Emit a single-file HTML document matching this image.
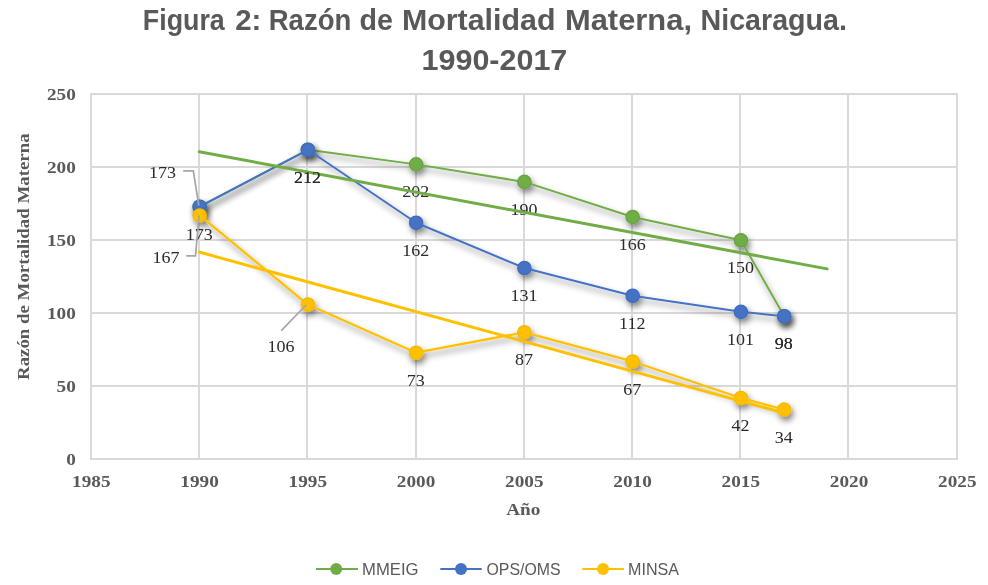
<!DOCTYPE html><html><head><meta charset="utf-8"><style>html,body{margin:0;padding:0;background:#fff;}svg{display:block;will-change:transform}</style></head><body>
<svg width="988" height="585" viewBox="0 0 988 585">
<defs>
<filter id="sh" filterUnits="userSpaceOnUse" x="0" y="0" width="988" height="585">
<feGaussianBlur in="SourceAlpha" stdDeviation="3.2"/>
<feOffset dx="2.2" dy="3.6" result="b"/>
<feComponentTransfer><feFuncA type="linear" slope="0.5"/></feComponentTransfer>
<feMerge><feMergeNode/><feMergeNode in="SourceGraphic"/></feMerge>
</filter>
</defs>
<rect width="988" height="585" fill="#fff"/>
<g font-family="Liberation Sans, sans-serif" font-weight="bold" font-size="30" fill="#595959">
<text transform="translate(142.80 30) scale(0.8948 1)">Figura</text>
<text transform="translate(235.18 30) scale(0.9803 1)">2:</text>
<text transform="translate(268.76 30) scale(0.9172 1)">Razón</text>
<text transform="translate(359.52 30) scale(0.9556 1)">de</text>
<text transform="translate(401.97 30) scale(1.0123 1)">Mortalidad</text>
<text transform="translate(564.93 30) scale(1.0305 1)">Materna,</text>
<text transform="translate(700.48 30) scale(0.9550 1)">Nicaragua.</text>
<text transform="translate(421.58 70) scale(1.0160 1)">1990-2017</text>
</g>
<path d="M91 93V460 M199 93V460 M307 93V460 M416 93V460 M524 93V460 M632 93V460 M740 93V460 M848 93V460 M957 93V460 M90 94H958 M90 167H958 M90 240H958 M90 313H958 M90 386H958 M90 459H958" stroke="#D9D9D9" stroke-width="2" fill="none"/>
<g font-family="Liberation Serif, serif" font-weight="bold" fill="#595959">
<text transform="translate(75.8 100) scale(1.05 0.95)" text-anchor="end" font-size="18.3">250</text>
<text transform="translate(75.8 173) scale(1.05 0.95)" text-anchor="end" font-size="18.3">200</text>
<text transform="translate(75.8 246) scale(1.05 0.95)" text-anchor="end" font-size="18.3">150</text>
<text transform="translate(75.8 319) scale(1.05 0.95)" text-anchor="end" font-size="18.3">100</text>
<text transform="translate(75.8 392) scale(1.05 0.95)" text-anchor="end" font-size="18.3">50</text>
<text transform="translate(75.8 465) scale(1.05 0.95)" text-anchor="end" font-size="18.3">0</text>
<text transform="translate(91.3 487) scale(1.05 0.95)" text-anchor="middle" font-size="18.3">1985</text>
<text transform="translate(199.55 487) scale(1.05 0.95)" text-anchor="middle" font-size="18.3">1990</text>
<text transform="translate(307.8 487) scale(1.05 0.95)" text-anchor="middle" font-size="18.3">1995</text>
<text transform="translate(416.05 487) scale(1.05 0.95)" text-anchor="middle" font-size="18.3">2000</text>
<text transform="translate(524.3 487) scale(1.05 0.95)" text-anchor="middle" font-size="18.3">2005</text>
<text transform="translate(632.55 487) scale(1.05 0.95)" text-anchor="middle" font-size="18.3">2010</text>
<text transform="translate(740.8 487) scale(1.05 0.95)" text-anchor="middle" font-size="18.3">2015</text>
<text transform="translate(849.05 487) scale(1.05 0.95)" text-anchor="middle" font-size="18.3">2020</text>
<text transform="translate(957.3 487) scale(1.05 0.95)" text-anchor="middle" font-size="18.3">2025</text>
<text transform="translate(523.3 514.8) scale(1.05 0.95)" text-anchor="middle" font-size="18.3">Año</text>
<text transform="translate(29.2 256.7) rotate(-90) scale(1 0.92)" text-anchor="middle" font-size="18.3" textLength="246.5" lengthAdjust="spacingAndGlyphs">Razón de Mortalidad Materna</text>
</g>
<g filter="url(#sh)">
<polyline points="199.65,206.72 307.90,149.78 416.15,164.38 524.40,181.90 632.65,216.94 740.90,240.30 784.20,316.22" fill="none" stroke="#70AD47" stroke-width="2" stroke-linejoin="round" stroke-linecap="round"/>
<circle cx="199.65" cy="206.72" r="6.7" fill="#70AD47" stroke="#67a23f" stroke-width="1.2"/>
<circle cx="307.90" cy="149.78" r="6.7" fill="#70AD47" stroke="#67a23f" stroke-width="1.2"/>
<circle cx="416.15" cy="164.38" r="6.7" fill="#70AD47" stroke="#67a23f" stroke-width="1.2"/>
<circle cx="524.40" cy="181.90" r="6.7" fill="#70AD47" stroke="#67a23f" stroke-width="1.2"/>
<circle cx="632.65" cy="216.94" r="6.7" fill="#70AD47" stroke="#67a23f" stroke-width="1.2"/>
<circle cx="740.90" cy="240.30" r="6.7" fill="#70AD47" stroke="#67a23f" stroke-width="1.2"/>
<circle cx="784.20" cy="316.22" r="6.7" fill="#70AD47" stroke="#67a23f" stroke-width="1.2"/>
</g>
<g filter="url(#sh)">
<polyline points="199.65,206.72 307.90,149.78 416.15,222.78 524.40,268.04 632.65,295.78 740.90,311.84 784.20,316.22" fill="none" stroke="#4472C4" stroke-width="2" stroke-linejoin="round" stroke-linecap="round"/>
<circle cx="199.65" cy="206.72" r="6.7" fill="#4472C4" stroke="#3e6bbd" stroke-width="1.2"/>
<circle cx="307.90" cy="149.78" r="6.7" fill="#4472C4" stroke="#3e6bbd" stroke-width="1.2"/>
<circle cx="416.15" cy="222.78" r="6.7" fill="#4472C4" stroke="#3e6bbd" stroke-width="1.2"/>
<circle cx="524.40" cy="268.04" r="6.7" fill="#4472C4" stroke="#3e6bbd" stroke-width="1.2"/>
<circle cx="632.65" cy="295.78" r="6.7" fill="#4472C4" stroke="#3e6bbd" stroke-width="1.2"/>
<circle cx="740.90" cy="311.84" r="6.7" fill="#4472C4" stroke="#3e6bbd" stroke-width="1.2"/>
<circle cx="784.20" cy="316.22" r="6.7" fill="#4472C4" stroke="#3e6bbd" stroke-width="1.2"/>
</g>
<g filter="url(#sh)">
<polyline points="199.65,215.48 307.90,304.54 416.15,352.72 524.40,332.28 632.65,361.48 740.90,397.98 784.20,409.66" fill="none" stroke="#FFC000" stroke-width="2.3" stroke-linejoin="round" stroke-linecap="round"/>
<circle cx="199.65" cy="215.48" r="6.7" fill="#FFC000" stroke="#f5b800" stroke-width="1.2"/>
<circle cx="307.90" cy="304.54" r="6.7" fill="#FFC000" stroke="#f5b800" stroke-width="1.2"/>
<circle cx="416.15" cy="352.72" r="6.7" fill="#FFC000" stroke="#f5b800" stroke-width="1.2"/>
<circle cx="524.40" cy="332.28" r="6.7" fill="#FFC000" stroke="#f5b800" stroke-width="1.2"/>
<circle cx="632.65" cy="361.48" r="6.7" fill="#FFC000" stroke="#f5b800" stroke-width="1.2"/>
<circle cx="740.90" cy="397.98" r="6.7" fill="#FFC000" stroke="#f5b800" stroke-width="1.2"/>
<circle cx="784.20" cy="409.66" r="6.7" fill="#FFC000" stroke="#f5b800" stroke-width="1.2"/>
</g>
<g font-family="Liberation Serif, serif" font-size="18" fill="#2b2b2b" text-anchor="middle"><text transform="translate(307.50 182.88) scale(1 0.96)">212</text><text transform="translate(415.75 197.48) scale(1 0.96)">202</text><text transform="translate(524.00 215.00) scale(1 0.96)">190</text><text transform="translate(632.25 250.04) scale(1 0.96)">166</text><text transform="translate(740.50 273.40) scale(1 0.96)">150</text><text transform="translate(783.80 349.32) scale(1 0.96)">98</text><text transform="translate(162.40 177.60) scale(1 0.96)">173</text></g>
<polyline points="183.2,170.8 193.3,170.8 198.8,205.5" fill="none" stroke="#A6A6A6" stroke-width="1.7"/>
<line x1="199.25" y1="151.75" x2="827.10" y2="268.86" stroke="#70AD47" stroke-width="3" stroke-linecap="round"/>
<g font-family="Liberation Serif, serif" font-size="18" fill="#2b2b2b" text-anchor="middle"><text transform="translate(199.25 239.82) scale(1 0.96)">173</text><text transform="translate(307.50 182.88) scale(1 0.96)">212</text><text transform="translate(415.75 255.88) scale(1 0.96)">162</text><text transform="translate(524.00 301.14) scale(1 0.96)">131</text><text transform="translate(632.25 328.88) scale(1 0.96)">112</text><text transform="translate(740.50 344.94) scale(1 0.96)">101</text><text transform="translate(783.80 349.32) scale(1 0.96)">98</text></g>
<g font-family="Liberation Serif, serif" font-size="18" fill="#2b2b2b" text-anchor="middle"><text transform="translate(415.75 385.82) scale(1 0.96)">73</text><text transform="translate(524.00 365.38) scale(1 0.96)">87</text><text transform="translate(632.25 394.58) scale(1 0.96)">67</text><text transform="translate(740.50 431.08) scale(1 0.96)">42</text><text transform="translate(783.80 442.76) scale(1 0.96)">34</text><text transform="translate(165.90 262.70) scale(1 0.96)">167</text><text transform="translate(281.00 351.70) scale(1 0.96)">106</text></g>
<g fill="none" stroke="#A6A6A6" stroke-width="1.7">
<polyline points="186.3,255.8 195.5,255.8 199.1,215.3"/>
<polyline points="281.3,330.7 306.1,305"/>
</g>
<line x1="199.25" y1="252.07" x2="783.80" y2="412.89" stroke="#FFC000" stroke-width="3" stroke-linecap="round"/>
<line x1="316" y1="569" x2="358" y2="569" stroke="#70AD47" stroke-width="2.2"/><circle cx="336.2" cy="569" r="6" fill="#70AD47"/><text x="362" y="574.5" font-family="Liberation Sans, sans-serif" font-size="17" fill="#595959" textLength="56.5" lengthAdjust="spacingAndGlyphs">MMEIG</text>
<line x1="440.3" y1="569" x2="481.7" y2="569" stroke="#4472C4" stroke-width="2.2"/><circle cx="461" cy="569" r="6" fill="#4472C4"/><text x="486.5" y="574.5" font-family="Liberation Sans, sans-serif" font-size="17" fill="#595959" textLength="74" lengthAdjust="spacingAndGlyphs">OPS/OMS</text>
<line x1="582.2" y1="569" x2="624" y2="569" stroke="#FFC000" stroke-width="2.2"/><circle cx="603.1" cy="569" r="6" fill="#FFC000"/><text x="628" y="574.5" font-family="Liberation Sans, sans-serif" font-size="17" fill="#595959" textLength="51" lengthAdjust="spacingAndGlyphs">MINSA</text>
</svg></body></html>
